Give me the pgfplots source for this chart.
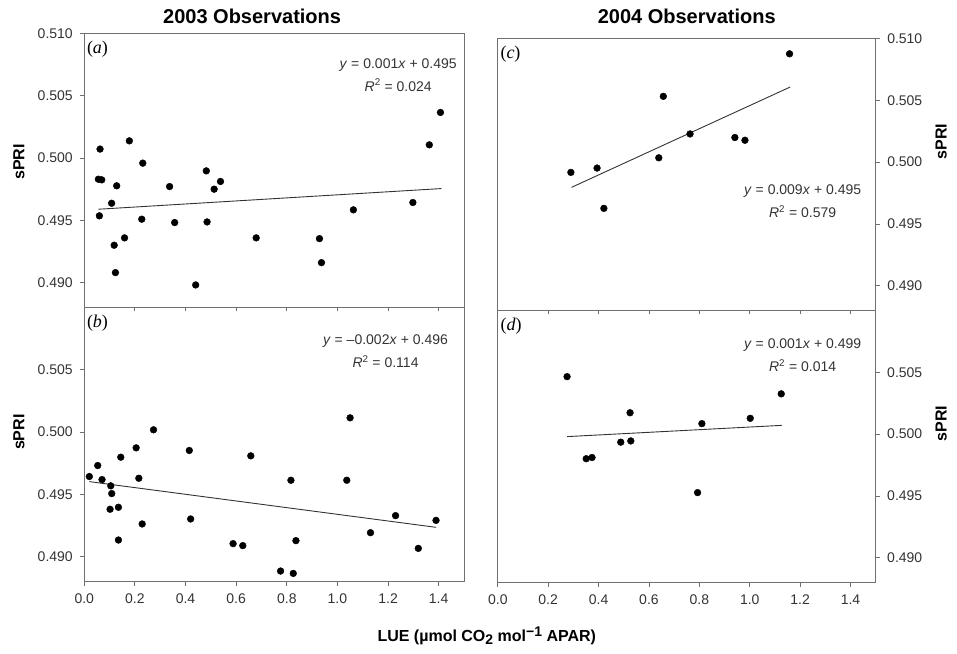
\documentclass[border=0pt]{standalone}
\usepackage{fontspec}
\setmainfont{Liberation Sans}
\newfontfamily\serifit{Liberation Serif}
\usepackage{pgfplots}
\pgfplotsset{compat=1.18}

\definecolor{framegray}{HTML}{707070}
\definecolor{labgray}{HTML}{333333}

\pgfplotsset{
  panel/.style={
    scale only axis,
    xmin=0, xmax=1.5, ymin=0.488, ymax=0.510,
    xtick={0,0.2,0.4,0.6,0.8,1.0,1.2,1.4},
    scaled ticks=false,
    axis line style={framegray, line width=0.9pt},
    tick style={framegray, line width=0.9pt},
    tick align=outside, major tick length=4pt,
    xtick pos=bottom,
    /pgf/number format/assume math mode=true,
    tick label style={font=\fontsize{14}{16}\selectfont, text=labgray},
    yticklabel style={/pgf/number format/fixed, /pgf/number format/fixed zerofill, /pgf/number format/precision=3},
    xticklabel style={/pgf/number format/fixed, /pgf/number format/fixed zerofill, /pgf/number format/precision=1, yshift=-5pt},
    ylabel style={font=\bfseries\fontsize{16}{18}\selectfont, anchor=center},
    title style={font=\bfseries\fontsize{20}{24}\selectfont, anchor=center},
  },
  leftpanel/.style={panel, width=379.7pt, height=274pt, ytick pos=left,
    yticklabel style={xshift=-4pt}},
  rightpanel/.style={panel, width=377.9pt, height=272pt, ytick pos=right, yticklabel pos=right,
    yticklabel style={xshift=4pt}},
  dots/.style={only marks, mark=*, mark size=3.4pt, black},
  fitline/.style={no marks, black!80, line width=0.9pt},
}
\tikzset{
  eqn/.style={font=\fontsize{14}{23}\selectfont, align=center, text=labgray},
  tag/.style={font=\serifit\fontsize{18}{20}\selectfont, anchor=north west, inner sep=0pt, xshift=2.5pt, yshift=-7pt},
}

\begin{document}
\begin{tikzpicture}
\path[use as bounding box] (0,0) rectangle (957pt,653pt);

% (a) 2003, upper
\begin{axis}[leftpanel, at={(84.3pt,345.5pt)}, anchor=south west,
  ytick={0.490,0.495,0.500,0.505,0.510}, xticklabels={},
  title={2003 Observations}, title style={at={(axis description cs:0.442,1.042)}},
  ylabel={sPRI}, ylabel style={at={(axis description cs:-0.172,0.531)}}]
\addplot[dots] coordinates {
 (0.0556,0.49830) (0.0688,0.49825) (0.0622,0.50072) (0.0596,0.49536)
 (0.108,0.49637) (0.128,0.49777) (0.118,0.49300) (0.123,0.49080)
 (0.159,0.49359) (0.178,0.50138) (0.231,0.49959) (0.227,0.49509)
 (0.337,0.49771) (0.357,0.49482) (0.440,0.48981) (0.482,0.49897)
 (0.485,0.49487) (0.513,0.49750) (0.538,0.49812) (0.679,0.49359)
 (0.929,0.49353) (0.937,0.49160) (1.063,0.49584) (1.298,0.49643)
 (1.363,0.50106) (1.407,0.50366)};
\addplot[fitline] coordinates {(0.056,0.49589) (1.411,0.49755)};
\node[tag] at (rel axis cs:0,1) {(\textit{a})};
\node[eqn] at (axis cs:1.24,0.50668) {\textit{y} = 0.001\textit{x} + 0.495\\\textit{R}\textsuperscript{2} = 0.024};
\end{axis}

% (b) 2003, lower
\begin{axis}[leftpanel, at={(84.3pt,71.5pt)}, anchor=south west,
  ytick={0.490,0.495,0.500,0.505},
  ylabel={sPRI}, ylabel style={at={(axis description cs:-0.172,0.545)}},
  xlabel={LUE (\textmu mol CO\raisebox{-0.35ex}{\fontsize{14}{14}\selectfont 2} mol\raisebox{0.6ex}{\fontsize{14}{14}\selectfont \textminus 1} APAR)},
  xlabel style={font=\bfseries\fontsize{16}{18}\selectfont, at={(axis description cs:1.06,-0.2)}, anchor=center}]
\addplot[dots] coordinates {
 (0.0199,0.49643) (0.053,0.49731) (0.070,0.49618) (0.1045,0.49568)
 (0.1084,0.49506) (0.1018,0.49380) (0.1348,0.49396) (0.1441,0.49798)
 (0.1348,0.49133) (0.2048,0.49873) (0.2154,0.49629) (0.2286,0.49262)
 (0.2735,0.50018) (0.4148,0.49852) (0.4201,0.49302) (0.5878,0.49104)
 (0.6261,0.49088) (0.6578,0.49809) (0.7754,0.48884) (0.8163,0.49613)
 (0.8255,0.48865) (0.8361,0.49128) (1.0369,0.49613) (1.0500,0.50114)
 (1.1306,0.49192) (1.2297,0.49329) (1.3195,0.49066) (1.3895,0.49291)};
\addplot[fitline] coordinates {(0.0199,0.49602) (1.3895,0.49235)};
\node[tag] at (rel axis cs:0,1) {(\textit{b})};
\node[eqn] at (axis cs:1.19,0.50649) {\textit{y} = \textendash0.002\textit{x} + 0.496\\\textit{R}\textsuperscript{2} = 0.114};
\end{axis}

% (c) 2004, upper
\begin{axis}[rightpanel, at={(497.8pt,342.5pt)}, anchor=south west,
  ytick={0.490,0.495,0.500,0.505,0.510}, xticklabels={},
  title={2004 Observations}, title style={at={(axis description cs:0.5,1.061)}},
  ylabel={sPRI}, ylabel style={at={(axis description cs:1.173,0.621)}}]
\addplot[dots] coordinates {
 (0.290,0.49917) (0.394,0.49952) (0.421,0.49626) (0.639,0.50035)
 (0.657,0.50532) (0.763,0.50228) (0.941,0.50199) (0.981,0.50177)
 (1.158,0.50876)};
\addplot[fitline] coordinates {(0.2926,0.49796) (1.161,0.50608)};
\node[tag] at (rel axis cs:0,1) {(\textit{c})};
\node[eqn] at (axis cs:1.21,0.49682) {\textit{y} = 0.009\textit{x} + 0.495\\\textit{R}\textsuperscript{2} = 0.579};
\end{axis}

% (d) 2004, lower
\begin{axis}[rightpanel, at={(497.8pt,70.5pt)}, anchor=south west,
  ytick={0.490,0.495,0.500,0.505},
  ylabel={sPRI}, ylabel style={at={(axis description cs:1.173,0.585)}}]
\addplot[dots] coordinates {
 (0.275,0.50465) (0.351,0.49801) (0.374,0.49811) (0.488,0.49935)
 (0.528,0.49945) (0.525,0.50173) (0.793,0.49527) (0.810,0.50085)
 (1.002,0.50128) (1.125,0.50326)};
\addplot[fitline] coordinates {(0.275,0.49980) (1.127,0.50071)};
\node[tag] at (rel axis cs:0,1) {(\textit{d})};
\node[eqn] at (axis cs:1.21,0.50638) {\textit{y} = 0.001\textit{x} + 0.499\\\textit{R}\textsuperscript{2} = 0.014};
\end{axis}
\end{tikzpicture}
\end{document}
